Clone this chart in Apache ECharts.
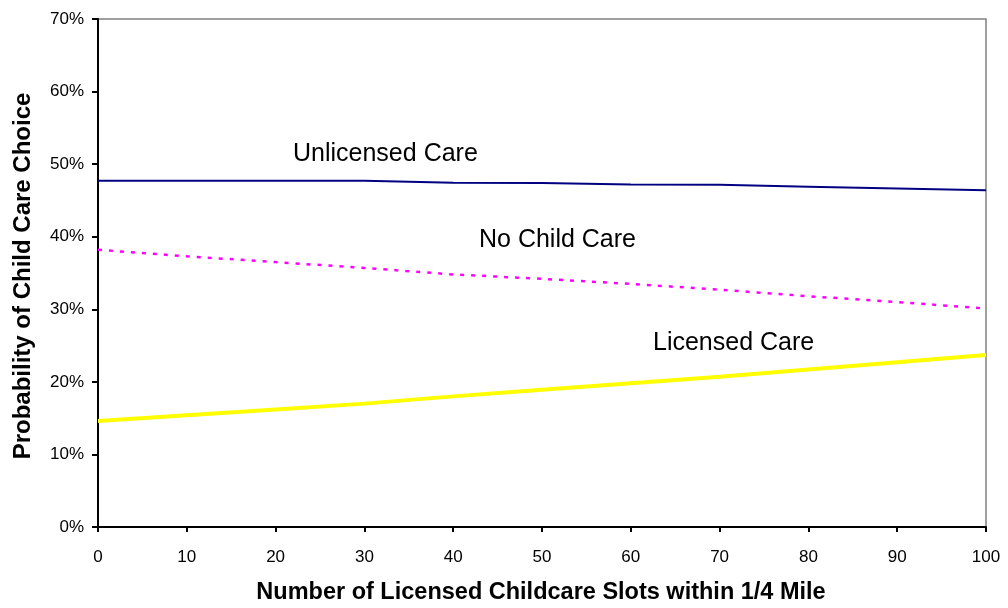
<!DOCTYPE html>
<html>
<head>
<meta charset="utf-8">
<script src="https://cdn.jsdelivr.net/npm/echarts@6/dist/echarts.min.js"></script>
<style>
html,body{margin:0;padding:0;background:#fff;}
#chart{width:1008px;height:608px;}
</style>
</head>
<body>
<div id="chart"></div>
<script>
const slots = [0, 10, 20, 30, 40, 50, 60, 70, 80, 90, 100];
const unlicensedCare = [47.7, 47.7, 47.7, 47.7, 47.45, 47.4, 47.2, 47.15, 46.9, 46.65, 46.4];
const noChildCare = [38.2, 37.3, 36.5, 35.7, 34.8, 34.2, 33.5, 32.7, 31.8, 31.0, 30.1];
const licensedCare = [14.6, 15.4, 16.2, 17.0, 18.0, 18.9, 19.8, 20.7, 21.7, 22.7, 23.7];
const seriesNames = ['Unlicensed Care', 'No Child Care', 'Licensed Care'];
const xTitle = 'Number of Licensed Childcare Slots within 1/4 Mile';
const yTitle = 'Probability of Child Care Choice';

const pair = arr => slots.map((s, i) => [s, arr[i]]);
const font = 'Liberation Sans, Arial, sans-serif';

const chart = echarts.init(document.getElementById('chart'));
chart.setOption({
  animation: false,
  backgroundColor: '#fff',
  grid: {left: 98, right: 22, top: 19, bottom: 81, show: true, borderColor: '#808080', borderWidth: 1.5},
  xAxis: {
    type: 'value', min: 0, max: 100, interval: 10,
    axisLine: {show: true, onZero: false, lineStyle: {color: '#000', width: 2}},
    axisTick: {show: true, length: 5, lineStyle: {color: '#000', width: 2}},
    axisLabel: {color: '#000', fontSize: 17, fontFamily: font, margin: 22},
    splitLine: {show: false}
  },
  yAxis: {
    type: 'value', min: 0, max: 70, interval: 10,
    axisLine: {show: true, lineStyle: {color: '#000', width: 2}},
    axisTick: {show: true, length: 6, lineStyle: {color: '#000', width: 2}},
    axisLabel: {color: '#000', fontSize: 17, fontFamily: font, margin: 14, formatter: '{value}%'},
    splitLine: {show: false}
  },
  series: [
    {name: seriesNames[0], type: 'line', data: pair(unlicensedCare), showSymbol: false,
     lineStyle: {color: '#000080', width: 2}},
    {name: seriesNames[1], type: 'line', data: pair(noChildCare), showSymbol: false,
     lineStyle: {color: '#FF00FF', width: 2.5, type: [4, 7]}},
    {name: seriesNames[2], type: 'line', data: pair(licensedCare), showSymbol: false,
     lineStyle: {color: '#FFFF00', width: 4}}
  ],
  graphic: [
    {type: 'text', x: 293, y: 154, style: {text: seriesNames[0], font: '25px ' + font, fill: '#000', verticalAlign: 'middle'}},
    {type: 'text', x: 479, y: 240, style: {text: seriesNames[1], font: '25px ' + font, fill: '#000', verticalAlign: 'middle'}},
    {type: 'text', x: 653, y: 343, style: {text: seriesNames[2], font: '25px ' + font, fill: '#000', verticalAlign: 'middle'}},
    {type: 'text', x: 541, y: 593, style: {text: xTitle, font: 'bold 23.5px ' + font, fill: '#000', align: 'center', verticalAlign: 'middle'}},
    {type: 'text', x: 23, y: 276, rotation: Math.PI / 2, style: {text: yTitle, font: 'bold 24px ' + font, fill: '#000', align: 'center', verticalAlign: 'middle'}}
  ]
});
</script>
</body>
</html>
